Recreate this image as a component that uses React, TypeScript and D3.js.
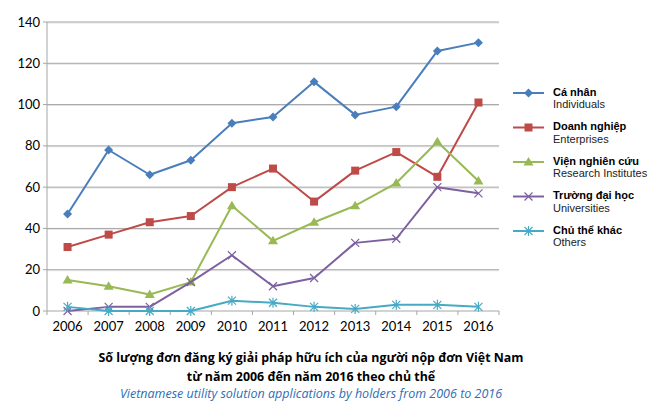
import React from "react";
import * as d3 from "d3";

const years = ["2006", "2007", "2008", "2009", "2010", "2011", "2012", "2013", "2014", "2015", "2016"];
const individuals = [47, 78, 66, 73, 91, 94, 111, 95, 99, 126, 130];
const enterprises = [31, 37, 43, 46, 60, 69, 53, 68, 77, 65, 101];
const research = [15, 12, 8, 14, 51, 34, 43, 51, 62, 82, 63];
const universities = [0, 2, 2, 14, 27, 12, 16, 33, 35, 60, 57];
const others = [2, 0, 0, 0, 5, 4, 2, 1, 3, 3, 2];
const yTicks = [0, 20, 40, 60, 80, 100, 120, 140];

const series = [
  { vi: "Cá nhân", en: "Individuals", values: individuals, color: "#4a7ebb", marker: "diamond" },
  { vi: "Doanh nghiệp", en: "Enterprises", values: enterprises, color: "#be4b48", marker: "square" },
  { vi: "Viện nghiên cứu", en: "Research Institutes", values: research, color: "#98b954", marker: "triangle" },
  { vi: "Trường đại học", en: "Universities", values: universities, color: "#7d60a0", marker: "x" },
  { vi: "Chủ thể khác", en: "Others", values: others, color: "#46aac5", marker: "star" },
];

function Marker({ type, x, y, color }: { type: string; x: number; y: number; color: string }) {
  if (type === "diamond") {
    const s = 4.5;
    return <path d={`M${x},${y - s}L${x + s},${y}L${x},${y + s}L${x - s},${y}Z`} fill={color} />;
  }
  if (type === "square") {
    return <rect x={x - 4} y={y - 4} width={8} height={8} fill={color} />;
  }
  if (type === "triangle") {
    return <path d={`M${x},${y - 5}L${x + 5},${y + 3.5}L${x - 5},${y + 3.5}Z`} fill={color} />;
  }
  if (type === "x") {
    const s = 4;
    return (
      <path d={`M${x - s},${y - s}L${x + s},${y + s}M${x - s},${y + s}L${x + s},${y - s}`} stroke={color} strokeWidth={1.2} />
    );
  }
  const s = 4;
  return (
    <path
      d={`M${x - s},${y - s}L${x + s},${y + s}M${x - s},${y + s}L${x + s},${y - s}M${x},${y - s - 1}L${x},${y + s + 1}`}
      stroke={color}
      strokeWidth={1.2}
    />
  );
}

export default function App() {
  const left = 47;
  const right = 499;
  const top = 22;
  const bottom = 311;

  const x = d3.scaleBand().domain(years).range([left, right]);
  const y = d3.scaleLinear().domain([0, 140]).range([bottom, top]);
  const cx = (yr: string) => x(yr)! + x.bandwidth() / 2;

  const line = d3
    .line<number>()
    .x((_, i) => cx(years[i]))
    .y((d) => y(d));

  const tickFont = "Lato, 'Open Sans', sans-serif";
  const labelFont = "'Open Sans', 'Noto Sans', sans-serif";
  const legendFont = "'Liberation Sans', Arial, sans-serif";

  return (
    <svg width={665} height={414} style={{ position: "absolute", left: 0, top: 0, background: "#fff" }}>
      {yTicks.map((t) => (
        <g key={t}>
          {t > 0 && (
            <>
              <line x1={left} x2={right} y1={y(t) + 1} y2={y(t) + 1} stroke="#e4e4e4" strokeWidth={1} />
              <line x1={left} x2={right} y1={y(t)} y2={y(t)} stroke="#a6a6a6" strokeWidth={1} />
            </>
          )}
          <line x1={left - 4} x2={left} y1={y(t)} y2={y(t)} stroke="#a6a6a6" />
          <text x={40} y={y(t) + 4.5} textAnchor="end" fontFamily={tickFont} fontSize={13} fill="#000">
            {t}
          </text>
        </g>
      ))}
      <line x1={left} x2={left} y1={top} y2={bottom} stroke="#a6a6a6" />
      <line x1={left} x2={right} y1={bottom} y2={bottom} stroke="#a6a6a6" />
      {years.map((yr, i) => (
        <g key={yr}>
          <line x1={x(yr)! + x.bandwidth()} x2={x(yr)! + x.bandwidth()} y1={bottom} y2={bottom + 4} stroke="#a6a6a6" />
          {i === 0 && <line x1={x(yr)!} x2={x(yr)!} y1={bottom} y2={bottom + 4} stroke="#a6a6a6" />}
          <text x={cx(yr)} y={331} textAnchor="middle" fontFamily={tickFont} fontSize={13} fill="#000">
            {yr}
          </text>
        </g>
      ))}

      {series.map((s) => (
        <g key={s.en}>
          <path d={line(s.values)!} fill="none" stroke={s.color} strokeWidth={2} strokeLinejoin="round" />
          {s.values.map((v, i) => (
            <Marker key={i} type={s.marker} x={cx(years[i])} y={y(v)} color={s.color} />
          ))}
        </g>
      ))}

      {series.map((s, i) => {
        const ly = 93 + i * 34.5;
        return (
          <g key={s.en}>
            <line x1={513} x2={544} y1={ly} y2={ly} stroke={s.color} strokeWidth={2} />
            <Marker type={s.marker} x={528.5} y={ly} color={s.color} />
            <text x={553} y={ly + 2.5} fontFamily={legendFont} fontSize={11} fontWeight="bold" fill="#000">
              {s.vi}
            </text>
            <text x={553} y={ly + 15} fontFamily={legendFont} fontSize={11} fill="#222">
              {s.en}
            </text>
          </g>
        );
      })}

      <text x={311} y={362} textAnchor="middle" fontFamily={labelFont} fontSize={12.4} fontWeight="bold" fill="#000">
        Số lượng đơn đăng ký giải pháp hữu ích của người nộp đơn Việt Nam
      </text>
      <text x={311} y={381} textAnchor="middle" fontFamily={labelFont} fontSize={12.4} fontWeight="bold" fill="#000">
        từ năm 2006 đến năm 2016 theo chủ thể
      </text>
      <text x={311} y={398} textAnchor="middle" fontFamily={labelFont} fontSize={12.5} fontStyle="italic" fill="#2e6db4">
        Vietnamese utility solution applications by holders from 2006 to 2016
      </text>
    </svg>
  );
}
